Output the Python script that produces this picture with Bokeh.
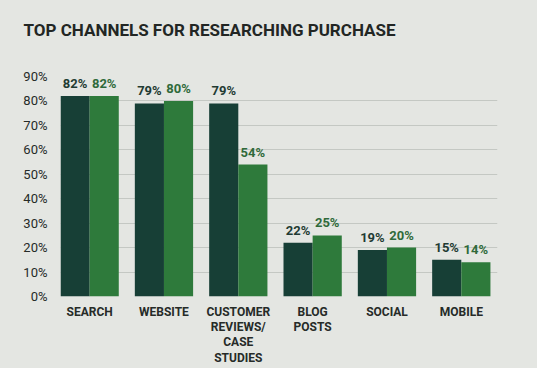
from bokeh.plotting import figure
from bokeh.layouts import column
from bokeh.models import ColumnDataSource, FixedTicker, LabelSet
from bokeh.core.properties import value
from bokeh.embed import file_html
from bokeh.resources import INLINE

title_text = "TOP CHANNELS FOR RESEARCHING PURCHASE"
categories = ["SEARCH", "WEBSITE", "CUSTOMER\nREVIEWS/\nCASE\nSTUDIES", "BLOG\nPOSTS", "SOCIAL", "MOBILE"]
series_dark = [82, 79, 79, 22, 19, 15]
series_green = [82, 80, 54, 25, 20, 14]
y_ticks = [0, 10, 20, 30, 40, 50, 60, 70, 80, 90]

BG = "#e4e6e2"
DARK = "#173f36"
GREEN = "#2e7a3b"
TXT = "#262b28"
FONT = "Roboto"

# title strip
tp = figure(width=537, height=68, output_backend="svg", toolbar_location=None,
            x_range=(0, 537), y_range=(0, 68), x_axis_type=None, y_axis_type=None,
            background_fill_color=BG, border_fill_color=BG, outline_line_color=None,
            min_border=0)
tp.frame_align = False
tp.xgrid.grid_line_color = None
tp.ygrid.grid_line_color = None
tp.text(x=[23], y=[39], text=[title_text], text_font=value(FONT), text_font_size="17px",
        text_font_style="bold", text_color="#222624", text_baseline="alphabetic",
        text_align="left")

bw = 0.392
xs = list(range(len(categories)))
src_d = ColumnDataSource(dict(x=[i - bw / 2 for i in xs], y=series_dark,
                              lab=[f"{v}%" for v in series_dark]))
src_g = ColumnDataSource(dict(x=[i + bw / 2 for i in xs], y=series_green,
                              lab=[f"{v}%" for v in series_green]))

p = figure(width=537, height=300, output_backend="svg", toolbar_location=None,
           x_range=(-bw, 5 + bw + 0.095), y_range=(0, 90),
           background_fill_color=BG, border_fill_color=BG, outline_line_color=None,
           min_border_left=60, min_border_right=40, min_border_top=8, min_border_bottom=72)
p.frame_align = False

p.vbar(x="x", top="y", width=bw, source=src_d, color=DARK, line_color=None)
p.vbar(x="x", top="y", width=bw, source=src_g, color=GREEN, line_color=None)

p.add_layout(LabelSet(x="x", y="y", text="lab", source=src_d, text_align="center",
                      y_offset=5, text_color="#1f3b33", text_font=value(FONT),
                      text_font_size="13px", text_font_style="bold"))
p.add_layout(LabelSet(x="x", y="y", text="lab", source=src_g, text_align="center",
                      y_offset=5, text_color="#2f6a3a", text_font=value(FONT),
                      text_font_size="13px", text_font_style="bold"))

p.xaxis.ticker = FixedTicker(ticks=xs)
p.xaxis.major_label_overrides = {i: c for i, c in enumerate(categories)}
p.xaxis.major_label_text_font = FONT
p.xaxis.major_label_text_font_size = "12px"
p.xaxis.major_label_text_font_style = "bold"
p.xaxis.major_label_text_color = TXT
p.xaxis.major_label_text_line_height = 1.1
p.xaxis.major_label_standoff = 2

p.yaxis.ticker = FixedTicker(ticks=y_ticks)
p.yaxis.major_label_overrides = {v: f"{v}%" for v in y_ticks}
p.yaxis.major_label_text_font = FONT
p.yaxis.major_label_text_font_size = "13px"
p.yaxis.major_label_text_color = TXT
p.yaxis.major_label_standoff = 7

for ax in (p.xaxis, p.yaxis):
    ax.axis_line_color = None
    ax.major_tick_line_color = None
    ax.minor_tick_line_color = None

p.xgrid.grid_line_color = None
p.ygrid.ticker = FixedTicker(ticks=y_ticks)
p.ygrid.grid_line_color = "#c4c8c3"
p.ygrid.grid_line_width = 1

layout = column(tp, p, spacing=0, styles={"background-color": BG})
open("out.html", "w").write(file_html(layout, INLINE))
